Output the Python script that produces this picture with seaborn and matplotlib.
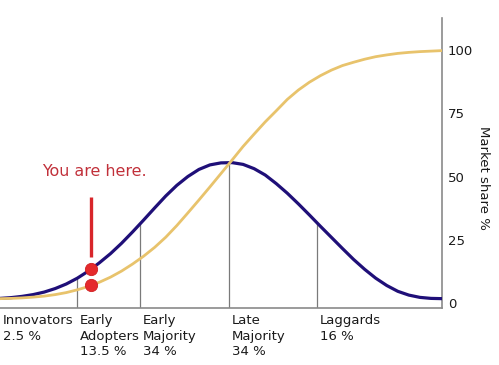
import numpy as np
import pandas as pd
import matplotlib
matplotlib.use("Agg")
import matplotlib.pyplot as plt
import seaborn as sns

# ---- data ----
x_time = [i * 2.5 for i in range(41)]
adopters = [1.8, 2.1, 2.6, 3.3, 4.3, 5.7, 7.5, 9.8, 12.6, 15.9, 19.5, 23.6, 28.1, 32.8,
            37.6, 42.3, 46.5, 50.0, 52.8, 54.6, 55.4, 55.5, 54.8, 53.1, 50.6, 47.2, 43.4,
            39.2, 34.8, 30.3, 25.9, 21.5, 17.2, 13.3, 9.8, 6.9, 4.6, 3.1, 2.2, 1.8, 1.7]
market_share = [1.7, 1.8, 2.0, 2.3, 2.7, 3.3, 4.1, 5.2, 6.5, 8.2, 10.2, 12.6, 15.4, 18.5,
                22.0, 26.0, 30.6, 35.6, 40.7, 45.9, 51.2, 56.5, 61.9, 66.8, 71.6, 76.0,
                80.5, 84.2, 87.3, 89.9, 92.1, 93.9, 95.2, 96.4, 97.4, 98.1, 98.7, 99.1,
                99.4, 99.6, 99.8]
segment_starts = [0.0, 17.4, 31.7, 51.8, 71.7]
boundaries = [17.4, 31.7, 51.8, 71.7]
segment_labels = ["Innovators\n2.5 %", "Early\nAdopters\n13.5 %", "Early\nMajority\n34 %",
                  "Late\nMajority\n34 %", "Laggards\n16 %"]
y_ticks = [0, 25, 50, 75, 100]
here_x = 20.6
here_text = "You are here."
here_line = [18.3, 42.1]

df = pd.DataFrame({"x": x_time, "adopters": adopters, "share": market_share})

sns.set_style("white")
plt.rcParams["font.family"] = ["DejaVu Sans"]

fig = plt.figure(figsize=(4.99, 3.65), dpi=100)
ax = fig.add_axes([0, 57 / 365, 442 / 499, 290 / 365])

# divider lines up to the bell curve
for b in boundaries:
    top = np.interp(b, x_time, adopters)
    ax.plot([b, b], [-2, top], color="#7a7a7a", lw=0.9, zorder=1)

sns.lineplot(data=df, x="x", y="adopters", ax=ax, color="#1f0f78", lw=2.3, zorder=3)
sns.lineplot(data=df, x="x", y="share", ax=ax, color="#e8c36c", lw=2.0, zorder=4)

# "You are here" marker
ax.plot([here_x, here_x], here_line, color="#d8262a", lw=2.4, solid_capstyle="butt", zorder=5)
dot_y = [np.interp(here_x, x_time, adopters), np.interp(here_x, x_time, market_share)]
ax.scatter([here_x, here_x], dot_y, s=78, color="#e52a2c", edgecolor="#d01f22",
           linewidth=0.6, zorder=6)
ax.text(here_x + 0.7, 50.3, here_text, color="#c1303a", fontsize=11.4,
        ha="center", va="baseline")

# segment labels below the axis
for sx, lab in zip(segment_starts, segment_labels):
    ax.annotate(lab, xy=(sx, 0), xycoords=("data", "axes fraction"),
                xytext=(2.2, -4.5), textcoords="offset points",
                ha="left", va="top", fontsize=9.5, color="#1a1a1a", linespacing=1.25)

ax.set_xlim(0, 100)
ax.set_ylim(-2, 112.7)
ax.set_xticks([])
ax.set_yticks(y_ticks)
ax.yaxis.tick_right()
ax.yaxis.set_label_position("right")
ax.tick_params(axis="y", length=0, pad=4.3, labelsize=9.5, labelcolor="#1a1a1a")
ax.set_xlabel("")
ax.set_ylabel("Market share %", rotation=270, fontsize=9.5, color="#1a1a1a",
              labelpad=12, y=0.448)

for side in ["left", "top"]:
    ax.spines[side].set_visible(False)
for side in ["right", "bottom"]:
    ax.spines[side].set_color("#8a8a8a")
    ax.spines[side].set_linewidth(1.2)

fig.savefig("out.png", dpi=100)
